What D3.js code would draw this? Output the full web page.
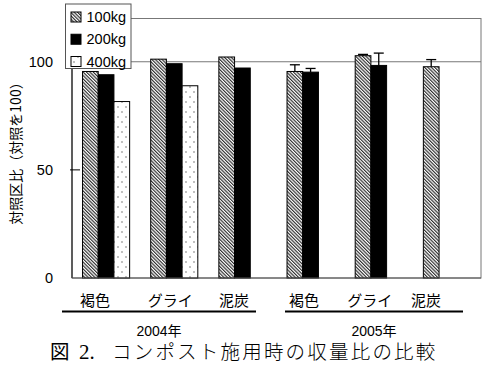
<!DOCTYPE html>
<html><head><meta charset="utf-8">
<script src="https://cdn.jsdelivr.net/npm/d3@7/dist/d3.min.js"></script>
<style>
html,body{margin:0;padding:0;background:#fff;}
svg{display:block;}
</style></head>
<body>
<svg id="chart" width="488" height="368"></svg>
<script>
// ---- data ----
const categories = ["褐色","グライ","泥炭","褐色","グライ","泥炭"];
const years = ["2004年","2005年"];
const seriesNames = ["100kg","200kg","400kg"];
const v100 = [95.5, 101.2, 102.2, 95.5, 102.8, 97.7];
const v200 = [94.0, 99.1, 97.1, 95.2, 98.3, null];
const v400 = [81.6, 88.9, null, null, null, null];
const e100 = [null, null, null, 3.1, 0.6, 3.3];
const e200 = [null, null, null, 1.7, 5.7, null];
const yTicks = [0, 50, 100];
const yLabel = "対照区比（対照を100）";
const caption1 = "図";
const caption2 = "2.";
const caption3 = "コンポスト施用時の収量比の比較";

// ---- layout ----
const svg = d3.select("#chart");
const L = 72, R = 481, T = 18.5, B = 278;
const keys = categories.map((c, i) => i);
const x = d3.scaleBand().domain(keys).range([L, R]).paddingInner(0).paddingOuter(0);
const xs = d3.scaleBand().domain(seriesNames).range([0, x.bandwidth()]).paddingInner(0).paddingOuter(0.67);
const y = d3.scaleLinear().domain([0, 120]).range([B, T]);
const labelNudge = [-11, -4, -8.5, -6.5, -9, -21];

const sansJP = "'Noto Sans CJK JP', sans-serif";
const latin = "'Liberation Sans', Arial, sans-serif";
const latinJP = "'Liberation Sans', 'Noto Sans CJK JP', sans-serif";
const serifJP = "'Liberation Serif', 'Noto Sans CJK JP', serif";

// patterns
const defs = svg.append("defs");
const hatch = defs.append("pattern").attr("id", "hatch")
  .attr("patternUnits", "userSpaceOnUse").attr("width", 2.4).attr("height", 2.4)
  .attr("patternTransform", "rotate(-45)");
hatch.append("rect").attr("width", 2.4).attr("height", 2.4).attr("fill", "#fff");
hatch.append("line").attr("x1", 0.6).attr("y1", 0).attr("x2", 0.6).attr("y2", 2.4)
  .attr("stroke", "#222").attr("stroke-width", 1.1);
const dots = defs.append("pattern").attr("id", "dots")
  .attr("patternUnits", "userSpaceOnUse").attr("width", 8).attr("height", 10);
dots.append("rect").attr("width", 8).attr("height", 10).attr("fill", "#fff");
dots.append("circle").attr("cx", 2).attr("cy", 2).attr("r", 0.7).attr("fill", "#555");
dots.append("circle").attr("cx", 6).attr("cy", 7).attr("r", 0.7).attr("fill", "#555");

const fills = {"100kg": "url(#hatch)", "200kg": "#000", "400kg": "url(#dots)"};
const seriesVals = {"100kg": v100, "200kg": v200, "400kg": v400};
const seriesErr = {"100kg": e100, "200kg": e200, "400kg": null};

// plot frame & grid
svg.append("line").attr("x1", L).attr("x2", R).attr("y1", y(100)).attr("y2", y(100))
  .attr("stroke", "#777").attr("stroke-width", 1);
svg.append("rect").attr("x", L).attr("y", T).attr("width", R - L).attr("height", B - T)
  .attr("fill", "none").attr("stroke", "#777").attr("stroke-width", 1);

// bars
seriesNames.forEach(s => {
  const vals = seriesVals[s];
  const data = keys.map(k => ({k, v: vals[k]})).filter(d => d.v != null);
  svg.append("g").selectAll("rect").data(data).join("rect")
    .attr("x", d => x(d.k) + xs(s))
    .attr("y", d => y(d.v))
    .attr("width", xs.bandwidth())
    .attr("height", d => B - y(d.v))
    .attr("fill", fills[s])
    .attr("stroke", "#000").attr("stroke-width", 1);
  const errs = seriesErr[s];
  if (errs) {
    const ed = keys.map(k => ({k, v: vals[k], e: errs[k]})).filter(d => d.e != null && d.v != null);
    const g = svg.append("g").attr("stroke", "#000").attr("stroke-width", 1.3);
    g.selectAll("line.v").data(ed).join("line").attr("class", "v")
      .attr("x1", d => x(d.k) + xs(s) + xs.bandwidth() / 2)
      .attr("x2", d => x(d.k) + xs(s) + xs.bandwidth() / 2)
      .attr("y1", d => y(d.v)).attr("y2", d => y(d.v + d.e));
    g.selectAll("line.c").data(ed).join("line").attr("class", "c")
      .attr("x1", d => x(d.k) + xs(s) + xs.bandwidth() / 2 - 5)
      .attr("x2", d => x(d.k) + xs(s) + xs.bandwidth() / 2 + 5)
      .attr("y1", d => y(d.v + d.e)).attr("y2", d => y(d.v + d.e));
  }
});

// axes lines
svg.append("line").attr("x1", L).attr("x2", L).attr("y1", T).attr("y2", B)
  .attr("stroke", "#000").attr("stroke-width", 1);
svg.append("line").attr("x1", L).attr("x2", R).attr("y1", B).attr("y2", B)
  .attr("stroke", "#555").attr("stroke-width", 1);

// y axis ticks
const yAxis = d3.axisLeft(y).tickValues(yTicks).tickSize(0).tickPadding(0);
const ya = svg.append("g").attr("transform", `translate(${L},0)`).call(yAxis);
ya.select(".domain").remove();
ya.selectAll("text").attr("x", -19).attr("font-family", latin).attr("font-size", 14.5).attr("fill", "#000");
svg.append("g").selectAll("line").data(yTicks.filter(t => t > 0)).join("line")
  .attr("x1", L - 2).attr("x2", L + 8).attr("y1", d => y(d)).attr("y2", d => y(d))
  .attr("stroke", "#000").attr("stroke-width", 1);

// y label
svg.append("text").attr("transform", "translate(15,150) rotate(-90)")
  .attr("text-anchor", "middle").attr("dominant-baseline", "central")
  .attr("font-family", sansJP).attr("font-size", 14).attr("fill", "#000").text(yLabel);

// category labels
svg.append("g").selectAll("text").data(keys).join("text")
  .attr("x", k => x(k) + x.bandwidth() / 2 + labelNudge[k])
  .attr("y", 299).attr("text-anchor", "middle").attr("dominant-baseline", "central")
  .attr("font-family", sansJP).attr("font-size", 15).attr("fill", "#000")
  .text(k => categories[k]);

// year underlines and labels
const spans = [
  [x(0) - 10, x(2) + x.bandwidth() - 20.5],
  [x(3) + 8.5, x(5) + x.bandwidth() - 18]
];
spans.forEach((sp, i) => {
  svg.append("line").attr("x1", sp[0]).attr("x2", sp[1]).attr("y1", 311.5).attr("y2", 311.5)
    .attr("stroke", "#000").attr("stroke-width", 1.8);
  svg.append("text").attr("x", (sp[0] + sp[1]) / 2).attr("y", 336)
    .attr("text-anchor", "middle")
    .attr("font-family", latinJP).attr("font-size", 14).attr("fill", "#000").text(years[i]);
});

// legend
const lg = svg.append("g");
lg.append("rect").attr("x", 65.5).attr("y", 4).attr("width", 65.5).attr("height", 64.5)
  .attr("fill", "#fff").attr("stroke", "#555").attr("stroke-width", 1);
const rowY = d3.scalePoint().domain(seriesNames).range([17, 61.5]);
seriesNames.forEach(s => {
  lg.append("rect").attr("x", 71).attr("y", rowY(s) - 5).attr("width", 10).attr("height", 10)
    .attr("fill", fills[s]).attr("stroke", "#000").attr("stroke-width", 1);
  lg.append("text").attr("x", 86.5).attr("y", rowY(s)).attr("dominant-baseline", "central")
    .attr("font-family", latin).attr("font-size", 14.5).attr("fill", "#000").text(s);
});

// caption
const cap = svg.append("text").attr("x", 50).attr("y", 359)
  .attr("font-family", serifJP).attr("font-size", 19.5).attr("fill", "#000");
cap.append("tspan").text(caption1);
cap.append("tspan").attr("x", 79).attr("font-size", 21).text(caption2);
cap.append("tspan").attr("x", 112).attr("letter-spacing", 2.2).attr("font-weight", 300).text(caption3);
</script>
</body></html>
